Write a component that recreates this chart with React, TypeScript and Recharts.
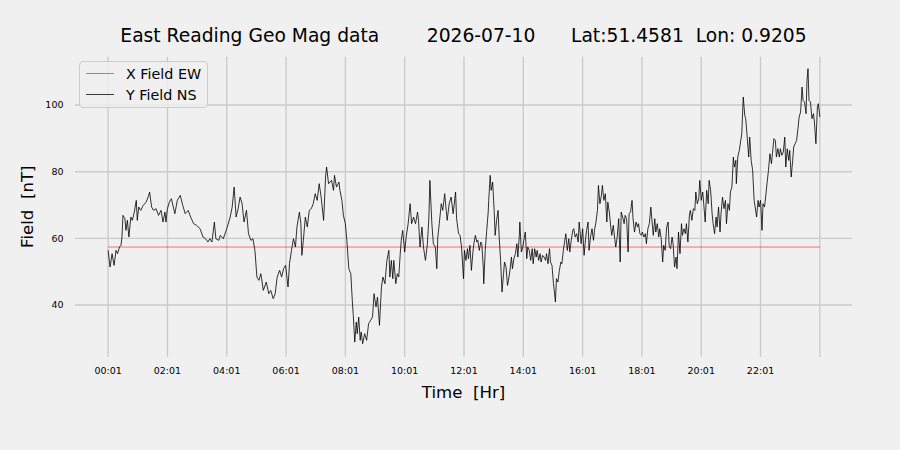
import React from 'react';
import { LineChart, Line, XAxis, YAxis, CartesianGrid, Legend } from 'recharts';

const chartTitle = 'East Reading Geo Mag data        2026-07-10      Lat:51.4581  Lon: 0.9205';

// minutes after 00:01, one tick every two hours
const tickMinutes = [0, 120, 240, 360, 480, 600, 720, 840, 960, 1080, 1200, 1320, 1440];
const tickLabels = ['00:01', '02:01', '04:01', '06:01', '08:01', '10:01', '12:01', '14:01', '16:01', '18:01', '20:01', '22:01', ''];
const fieldTicks = [40, 60, 80, 100];

// X Field EW sits flat for the whole day
const xFieldEw: [number, number][] = [[0, 57.4], [1440, 57.4]];

const ns00: [number, number][] = [
  [0, 56.4], [4, 51.4], [8, 55.4], [12, 51.9], [16, 56.4], [19, 55.4], [23, 57.4], [26, 57.9], [28, 60.4], [30, 66.9],
  [34, 65.9], [36, 62.4], [39, 65.4], [42, 60.4], [46, 66.4], [49, 65.4], [53, 67.9], [57, 71.4], [59, 65.4], [62, 69.4],
  [66, 68.4], [71, 69.9], [77, 70.9], [81, 72.4], [84, 73.9], [88, 69.4], [92, 68.4], [97, 68.9], [102, 66.9], [107, 68.4],
  [111, 64.9], [115, 67.9], [117, 64.9], [120, 68.9], [124, 70.9], [128, 71.9], [135, 67.4], [140, 71.4], [146, 72.9], [151, 69.9],
  [156, 67.4], [162, 68.4], [167, 66.4], [173, 64.4], [179, 63.9], [186, 62.9], [192, 60.4], [197, 59.9], [202, 58.9], [206, 59.9],
  [210, 58.9], [215, 64.9], [218, 59.9], [224, 59.4],
];
const ns04: [number, number][] = [
  [227, 60.9], [233, 59.9], [240, 62.9], [247, 66.4], [251, 69.4], [255, 75.4], [259, 66.4], [263, 68.9], [267, 72.4], [271, 70.4],
  [275, 64.9], [280, 68.4], [284, 61.4], [289, 59.4], [293, 59.9], [297, 56.4], [301, 48.4], [305, 47.4], [309, 49.4], [314, 44.4],
  [320, 46.9], [325, 43.4], [329, 44.4], [334, 41.9], [338, 43.4], [342, 48.4], [347, 50.4], [351, 48.4], [355, 50.9], [359, 51.9],
  [364, 45.4], [367, 52.4], [371, 56.4], [375, 59.9], [379, 57.4], [382, 63.4], [387, 67.9], [390, 64.4], [392, 54.9], [395, 59.4],
  [399, 66.4], [403, 63.4], [407, 68.4], [411, 68.9], [415, 70.4], [419, 73.4], [423, 71.4], [427, 76.4], [431, 72.4], [436, 65.4],
  [440, 78.4], [442, 81.4], [446, 76.4], [452, 77.4], [456, 74.4], [458, 78.9], [462, 75.4], [467, 76.9],
];
const ns08: [number, number][] = [
  [469, 74.4], [473, 71.4], [476, 66.9], [480, 64.4], [483, 59.4], [487, 50.9], [491, 49.4], [494, 41.4], [496, 36.9], [499, 28.9],
  [502, 34.9], [504, 31.4], [507, 36.4], [510, 29.4], [512, 31.9], [515, 28.4], [519, 31.4], [523, 29.4], [527, 34.4], [531, 35.4],
  [535, 36.4], [538, 43.4], [542, 39.4], [545, 42.4], [549, 33.9], [553, 45.4], [556, 48.4], [560, 46.4], [564, 53.4], [568, 56.4],
  [570, 48.4], [573, 53.4], [576, 47.9], [578, 53.4], [582, 46.4], [585, 49.4], [588, 48.4], [591, 55.4], [593, 59.4], [596, 62.4],
  [600, 55.9], [603, 60.4], [607, 64.4], [611, 70.4], [614, 64.4], [618, 66.4], [622, 64.4], [626, 67.9], [628, 65.4], [631, 57.4],
  [635, 63.4], [638, 57.4], [642, 53.4], [646, 58.4], [649, 66.4], [651, 77.4], [655, 64.4], [658, 58.4], [662, 57.4], [665, 50.9],
  [667, 60.4], [670, 64.4], [674, 70.4], [677, 68.4], [681, 73.4], [684, 68.4], [686, 65.4], [690, 70.4], [694, 72.4], [698, 67.4],
  [703, 73.9], [705, 65.9], [709, 61.4],
];
const ns12: [number, number][] = [
  [712, 60.9], [715, 57.4], [719, 47.9], [721, 56.4], [724, 53.4], [727, 56.9], [729, 53.9], [732, 57.9], [735, 50.4], [738, 55.9],
  [740, 58.4], [743, 60.9], [746, 58.9], [748, 59.4], [751, 56.4], [754, 58.9], [756, 58.4], [759, 51.4], [760, 46.4], [763, 56.4],
  [766, 62.4], [769, 67.9], [770, 71.4], [773, 78.9], [775, 74.4], [778, 76.9], [781, 68.4], [783, 60.9], [786, 65.4], [789, 68.4],
  [791, 60.9], [794, 53.4], [797, 43.9], [800, 49.4], [802, 52.9], [805, 51.4], [808, 45.9], [810, 47.4], [813, 50.4], [816, 54.4],
  [818, 50.9], [821, 53.9], [824, 55.4], [827, 58.4], [829, 54.4], [832, 60.9], [833, 64.9], [836, 55.9], [839, 57.4], [841, 59.4],
  [844, 61.9], [847, 53.9], [849, 57.4], [852, 56.4], [855, 53.4], [858, 56.9], [860, 52.4], [863, 56.9], [866, 54.4], [868, 56.4],
  [871, 53.4], [874, 55.4], [876, 52.9], [879, 54.9], [882, 54.4], [885, 53.4], [887, 55.4], [890, 52.4], [893, 56.9], [895, 52.9],
  [898, 51.9], [901, 46.4], [903, 43.9], [905, 40.9], [907, 47.9], [910, 46.9], [913, 50.4], [916, 52.9], [918, 52.4], [921, 56.4],
  [924, 59.4], [926, 61.4], [929, 56.4], [932, 59.9], [934, 55.9], [937, 59.4], [940, 62.4], [942, 62.9], [945, 60.4], [948, 61.4],
  [951, 58.9], [953, 64.9],
];
const ns16: [number, number][] = [
  [955, 61.9], [957, 58.4], [960, 62.9], [963, 54.9], [965, 58.4], [968, 62.4], [971, 64.9], [973, 56.4], [976, 60.4], [979, 62.9],
  [982, 59.4], [984, 62.4], [987, 64.9], [990, 68.4], [992, 75.9], [995, 70.4], [998, 72.9], [1000, 75.9], [1003, 71.4], [1006, 73.4],
  [1009, 64.9], [1011, 70.9], [1014, 67.9], [1017, 63.4], [1019, 60.9], [1022, 63.9], [1025, 59.9], [1027, 57.4], [1030, 60.4], [1033, 65.9],
  [1036, 52.9], [1038, 67.9], [1041, 66.4], [1044, 64.4], [1046, 66.9], [1049, 65.9], [1052, 55.9], [1054, 67.4], [1057, 67.9], [1060, 71.4],
  [1062, 65.9], [1065, 61.9], [1068, 64.9], [1071, 63.4], [1073, 64.4], [1076, 61.4], [1079, 60.9], [1081, 61.9], [1084, 60.4], [1087, 61.4],
  [1089, 58.4], [1092, 62.9], [1095, 64.4], [1098, 69.4], [1100, 65.9], [1103, 60.9], [1106, 65.9], [1108, 61.9], [1111, 64.4], [1114, 60.4],
  [1116, 62.9], [1119, 59.9], [1122, 52.9], [1124, 57.9], [1127, 56.4], [1130, 63.4], [1133, 64.9], [1135, 57.9], [1138, 56.9], [1141, 60.4],
  [1143, 58.4], [1146, 51.4], [1149, 54.4], [1151, 50.9], [1154, 61.9], [1157, 55.4], [1160, 64.4], [1162, 60.9], [1165, 62.9], [1168, 61.4],
  [1170, 64.4], [1173, 58.9], [1176, 66.9], [1178, 68.4], [1181, 65.4], [1184, 68.9], [1187, 68.4], [1189, 73.9], [1192, 70.4], [1195, 71.9],
];
const ns20: [number, number][] = [
  [1197, 77.4], [1200, 71.4], [1203, 73.9], [1205, 70.4], [1208, 64.9], [1211, 74.4], [1214, 70.4], [1216, 77.4], [1219, 74.4], [1222, 67.4],
  [1224, 64.4], [1227, 61.4], [1230, 66.4], [1232, 63.4], [1235, 69.4], [1238, 61.9], [1240, 67.4], [1243, 72.4], [1246, 68.9], [1249, 71.4],
  [1251, 64.4], [1254, 70.4], [1257, 68.4], [1259, 73.9], [1262, 75.4], [1265, 84.4], [1267, 81.4], [1270, 83.4], [1271, 76.4], [1274, 84.4],
  [1277, 86.4], [1280, 89.4], [1282, 91.4], [1285, 102.4], [1288, 96.9], [1290, 95.9], [1293, 90.4], [1296, 84.4], [1298, 90.4], [1301, 83.4],
  [1304, 80.4], [1307, 71.4], [1309, 69.4], [1312, 66.4], [1315, 71.4], [1317, 69.4], [1320, 71.4], [1323, 62.4], [1325, 70.4], [1328, 69.4],
  [1331, 73.4], [1333, 76.4], [1336, 80.4], [1339, 85.4], [1342, 82.4], [1344, 85.4], [1347, 89.9], [1350, 89.4], [1352, 84.4], [1355, 86.9],
  [1358, 84.4], [1360, 86.9], [1363, 84.9], [1366, 85.9], [1369, 90.4], [1371, 81.4], [1374, 86.9], [1377, 83.4], [1379, 86.4], [1382, 78.4],
  [1385, 83.4], [1387, 87.4], [1390, 88.4], [1393, 89.4], [1396, 93.4], [1398, 96.4], [1401, 97.9], [1404, 105.4], [1406, 101.4], [1409, 100.9],
  [1412, 97.4], [1414, 107.4], [1416, 110.9], [1418, 101.4], [1421, 100.9], [1424, 95.9], [1427, 97.4], [1429, 94.9], [1432, 88.4], [1435, 99.4],
  [1437, 100.4], [1440, 96.4],
];

const yFieldNs = [...ns00, ...ns04, ...ns08, ...ns12, ...ns16, ...ns20];

const nsData = yFieldNs.map(([t, v]) => ({ t, ns: v }));
const ewData = xFieldEw.map(([t, v]) => ({ t, ew: v }));

const font = '"DejaVu Sans", sans-serif';

const legendSwatch: Record<string, string> = {
  'X Field EW': 'rgba(255,0,0,0.6)',
  'Y Field NS': 'rgba(0,0,0,0.75)',
};

const LegendBox = ({ payload }: any) => (
  <div
    style={{
      display: 'inline-block',
      border: '1px solid #cccccc',
      borderRadius: 4,
      background: 'rgba(240,240,240,0.8)',
      padding: '1px 6px 2px 6px',
      fontFamily: font,
      fontSize: 14.3,
      color: '#000',
    }}
  >
    {(payload || []).map((p: any) => (
      <div key={p.value} style={{ display: 'flex', alignItems: 'center', height: 21 }}>
        <span
          style={{
            display: 'inline-block',
            width: 28,
            height: 0,
            borderTop: `1px solid ${legendSwatch[p.value] ?? p.color}`,
            marginRight: 12,
          }}
        />
        <span style={{ whiteSpace: 'nowrap' }}>{p.value}</span>
      </div>
    ))}
  </div>
);

const TimeLabel = () => (
  <text x={463.5} y={398} textAnchor="middle" fontSize={16.6} fill="#000" style={{ whiteSpace: 'pre' }}>
    Time  [Hr]
  </text>
);

const FieldLabel = () => (
  <text
    transform="translate(32.5, 206.7) rotate(-90)"
    x={0}
    y={0}
    textAnchor="middle"
    fontSize={16.6}
    fill="#000"
    style={{ whiteSpace: 'pre' }}
  >
    Field  [nT]
  </text>
);

export default function App() {
  return (
    <div
      style={{
        position: 'absolute',
        left: 0,
        top: 0,
        width: 900,
        height: 450,
        background: '#f0f0f0',
        fontFamily: font,
      }}
    >
      <div
        style={{
          position: 'absolute',
          left: 75,
          top: 26.2,
          width: 777,
          textAlign: 'center',
          whiteSpace: 'pre',
          fontSize: 18.7,
          lineHeight: '20px',
          color: '#000',
        }}
      >
        {chartTitle}
      </div>
      <LineChart
        width={900}
        height={450}
        data={nsData}
        margin={{ top: 56.7, right: 48, bottom: 63.3, left: 35 }}
      >
        <CartesianGrid stroke="#cbcbcb" strokeWidth={1.4} syncWithTicks />
        <XAxis
          dataKey="t"
          type="number"
          domain={[-67, 1505]}
          ticks={tickMinutes}
          interval={0}
          allowDataOverflow
          tickFormatter={(v: number) => tickLabels[tickMinutes.indexOf(v)] ?? ''}
          axisLine={false}
          tickLine={false}
          tickSize={0}
          tickMargin={10.8}
          height={30}
          tick={{ fontSize: 9.5, fill: '#000' }}
          label={<TimeLabel />}
        />
        <YAxis
          type="number"
          domain={[24.5, 114.5]}
          ticks={fieldTicks}
          interval={0}
          allowDataOverflow
          axisLine={false}
          tickLine={false}
          tickSize={0}
          tickMargin={11.5}
          width={40}
          tick={{ fontSize: 9.5, fill: '#000' }}
          label={<FieldLabel />}
        />
        <Legend
          layout="horizontal"
          verticalAlign="middle"
          align="center"
          content={<LegendBox />}
          wrapperStyle={{ left: 79, top: 61, width: 'auto', height: 'auto' }}
        />
        <Line
          name="X Field EW"
          data={ewData}
          dataKey="ew"
          type="linear"
          stroke="red"
          strokeOpacity={0.6}
          strokeWidth={0.9}
          dot={false}
          activeDot={false}
          isAnimationActive={false}
        />
        <Line
          name="Y Field NS"
          dataKey="ns"
          type="linear"
          stroke="#000"
          strokeWidth={0.8}
          dot={false}
          activeDot={false}
          isAnimationActive={false}
        />
      </LineChart>
    </div>
  );
}
